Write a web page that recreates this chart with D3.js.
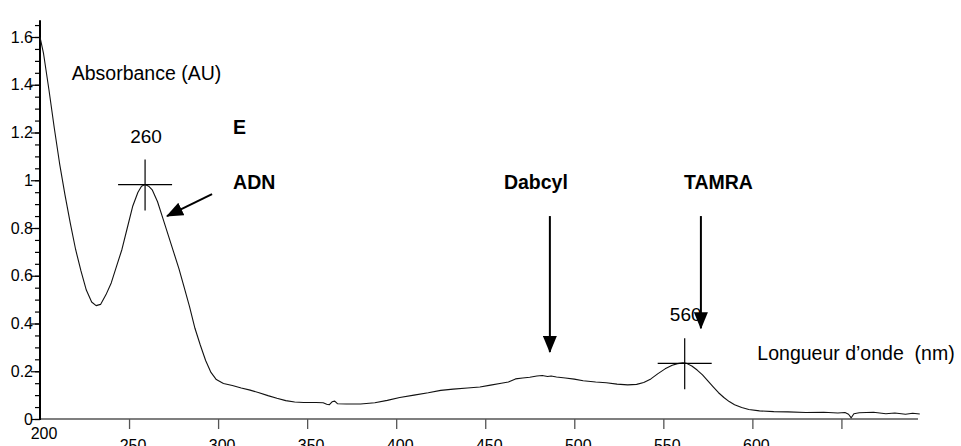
<!DOCTYPE html>
<html>
<head>
<meta charset="utf-8">
<script src="https://cdn.jsdelivr.net/npm/d3@7"></script>
<style>
  html, body { margin: 0; padding: 0; background: #fff; }
  svg { display: block; }
  text { font-family: "Liberation Sans", Arial, Helvetica, sans-serif; fill: #000; white-space: pre; }
</style>
</head>
<body>
<svg id="chart" width="961" height="446"></svg>
<script>
// ---------- data ----------
const wavelength = [200, 202, 205, 208, 211, 214, 217, 220, 223, 226, 229, 231.5, 234, 237, 240, 243, 246, 249, 252, 255, 257, 259, 261, 263, 266, 269, 272, 275, 278, 281, 284, 287, 290, 293, 296, 299, 303, 308, 313, 318, 323, 328, 333, 338, 343, 348, 355, 359, 361, 362.5, 364, 365.5, 367, 372, 380, 388, 395, 402, 410, 418, 425, 432, 440, 447, 453, 459, 463, 467, 471, 475, 479, 482, 485, 487, 490, 495, 500, 505, 512, 518, 524, 530, 535, 539, 543, 547, 551, 555, 558, 561, 563, 566, 569, 572, 575, 578, 581, 584, 587, 590, 594, 598, 604, 612, 620, 630, 640, 648, 652, 654, 655.5, 657, 660, 668, 675, 680, 686, 690, 694];
const absorbance = [1.60, 1.53, 1.38, 1.22, 1.07, 0.94, 0.82, 0.71, 0.62, 0.54, 0.49, 0.475, 0.48, 0.52, 0.57, 0.64, 0.71, 0.80, 0.89, 0.95, 0.975, 0.982, 0.975, 0.96, 0.91, 0.84, 0.77, 0.70, 0.63, 0.55, 0.47, 0.38, 0.31, 0.245, 0.195, 0.165, 0.149, 0.14, 0.13, 0.121, 0.11, 0.098, 0.087, 0.077, 0.071, 0.069, 0.069, 0.068, 0.062, 0.060, 0.072, 0.075, 0.064, 0.063, 0.063, 0.068, 0.078, 0.09, 0.10, 0.11, 0.12, 0.125, 0.13, 0.134, 0.142, 0.15, 0.155, 0.168, 0.172, 0.175, 0.18, 0.182, 0.178, 0.18, 0.176, 0.172, 0.167, 0.16, 0.155, 0.152, 0.146, 0.143, 0.145, 0.153, 0.168, 0.19, 0.21, 0.225, 0.232, 0.235, 0.233, 0.222, 0.205, 0.185, 0.16, 0.135, 0.11, 0.09, 0.073, 0.06, 0.048, 0.04, 0.034, 0.031, 0.03, 0.027, 0.028, 0.025, 0.027, 0.02, 0.005, 0.022, 0.026, 0.028, 0.022, 0.025, 0.02, 0.024, 0.021];

const yMajorTicks = [0, 0.2, 0.4, 0.6, 0.8, 1, 1.2, 1.4, 1.6];
const yTickLabels = ["0", "0.2", "0.4", "0.6", "0.8", "1", "1.2", "1.4", "1.6"];
const yMinorTicks = d3.range(0, 34).map(i => +(i * 0.05).toFixed(2));
const xTicks = [250, 300, 350, 400, 450, 500, 550, 600, 650];
const xTickLabelValues = [200, 250, 300, 350, 400, 450, 500, 550, 600];
const xTickLabels = ["200", "250", "300", "350", "400", "450", "500", "550", "600"];

// peak markers
const peakWavelength = [259, 562];
const peakAbsorbance = [0.982, 0.233];
const peakLabels = ["260", "560"];

// annotation labels (data coordinates)
const noteTexts = ["Absorbance (AU)", "Longueur d\u2019onde  (nm)"];
const noteWl = [217.8, 602.8];
const noteAbs = [1.42, 0.247];

const boldTexts = ["E", "ADN", "Dabcyl", "TAMRA"];
const boldWl = [308.4, 308.4, 460.5, 561.6];
const boldAbs = [1.194, 0.963, 0.963, 0.963];

// arrows: tail -> tip (data coordinates)
const arrowFromWl = [296.6, 486.3, 571.1];
const arrowFromAbs = [0.942, 0.85, 0.85];
const arrowToWl = [271.3, 486.3, 571.1];
const arrowToAbs = [0.85, 0.281, 0.38];

// ---------- chart ----------
const svg = d3.select("#chart");
const x = d3.scaleLinear().domain([200, 693]).range([40, 918]);
const y = d3.scaleLinear().domain([0, 1.6]).range([419, 37]);

svg.append("defs").append("marker")
  .attr("id", "head")
  .attr("markerUnits", "userSpaceOnUse")
  .attr("markerWidth", 17).attr("markerHeight", 14)
  .attr("refX", 16).attr("refY", 7)
  .attr("orient", "auto")
  .append("path").attr("d", "M0,0 L17,7 L0,14 Z").attr("fill", "#000");

// x axis
const xAxis = svg.append("g").attr("transform", "translate(0,419)")
  .call(d3.axisBottom(x).tickValues(xTicks).tickSize(10).tickFormat(""));
xAxis.select(".domain").remove();
xAxis.selectAll(".tick line").attr("stroke", "#555").attr("stroke-width", 1.3);
svg.append("line")
  .attr("x1", x(200)).attr("x2", x(693)).attr("y1", y(0)).attr("y2", y(0))
  .attr("stroke", "#555").attr("stroke-width", 1.5);

svg.append("g").selectAll("text").data(xTickLabelValues).join("text")
  .attr("x", d => x(d) + 4)
  .attr("y", (d, i) => i === 0 ? 439 : 451)
  .attr("text-anchor", "middle")
  .attr("font-size", 16)
  .text((d, i) => xTickLabels[i]);

// y axis: minor ticks
const yMinor = svg.append("g").attr("transform", "translate(40,0)")
  .call(d3.axisLeft(y).tickValues(yMinorTicks).tickSize(5).tickFormat(""));
yMinor.select(".domain").remove();
yMinor.selectAll(".tick line").attr("stroke", "#000").attr("stroke-width", 1.2);

// y axis: major ticks with labels
const yMajor = svg.append("g").attr("transform", "translate(40,0)")
  .call(d3.axisLeft(y).tickValues(yMajorTicks).tickSize(9).tickPadding(-2)
    .tickFormat((d, i) => yTickLabels[i]));
yMajor.select(".domain").remove();
yMajor.selectAll(".tick line").attr("stroke", "#000").attr("stroke-width", 1.2);
yMajor.selectAll(".tick text")
  .attr("font-size", 16)
  .attr("font-family", "'Liberation Sans', Arial, sans-serif")
  .attr("fill", "#000");

svg.append("line")
  .attr("x1", 40).attr("x2", 40).attr("y1", y(0) + 1).attr("y2", y(1.67))
  .attr("stroke", "#000").attr("stroke-width", 2);

// spectrum
const pts = wavelength.map((w, i) => [w, absorbance[i]]);
svg.append("path")
  .datum(pts)
  .attr("fill", "none")
  .attr("stroke", "#111")
  .attr("stroke-width", 1.1)
  .attr("stroke-linejoin", "round")
  .attr("d", d3.line().x(d => x(d[0])).y(d => y(d[1])));

// peak crosshairs
const peaks = svg.append("g");
peakWavelength.forEach((w, i) => {
  const cx = x(w), cy = y(peakAbsorbance[i]);
  peaks.append("line").attr("x1", cx - 27).attr("x2", cx + 27).attr("y1", cy).attr("y2", cy)
    .attr("stroke", "#000").attr("stroke-width", 1.2);
  peaks.append("line").attr("x1", cx).attr("x2", cx).attr("y1", cy - 25).attr("y2", cy + 26)
    .attr("stroke", "#000").attr("stroke-width", 1.2);
  peaks.append("text").attr("x", cx + 1).attr("y", cy - 42)
    .attr("text-anchor", "middle").attr("font-size", 19).text(peakLabels[i]);
});

// notes
noteTexts.forEach((t, i) => {
  svg.append("text").attr("x", x(noteWl[i])).attr("y", y(noteAbs[i]))
    .attr("xml:space", "preserve")
    .attr("font-size", 19.5).text(t);
});
boldTexts.forEach((t, i) => {
  svg.append("text").attr("x", x(boldWl[i])).attr("y", y(boldAbs[i]))
    .attr("font-size", 19.5).attr("font-weight", "bold").text(t);
});

// arrows
arrowFromWl.forEach((w, i) => {
  svg.append("line")
    .attr("x1", x(w)).attr("y1", y(arrowFromAbs[i]))
    .attr("x2", x(arrowToWl[i])).attr("y2", y(arrowToAbs[i]))
    .attr("stroke", "#000").attr("stroke-width", 2)
    .attr("marker-end", "url(#head)");
});
</script>
</body>
</html>
